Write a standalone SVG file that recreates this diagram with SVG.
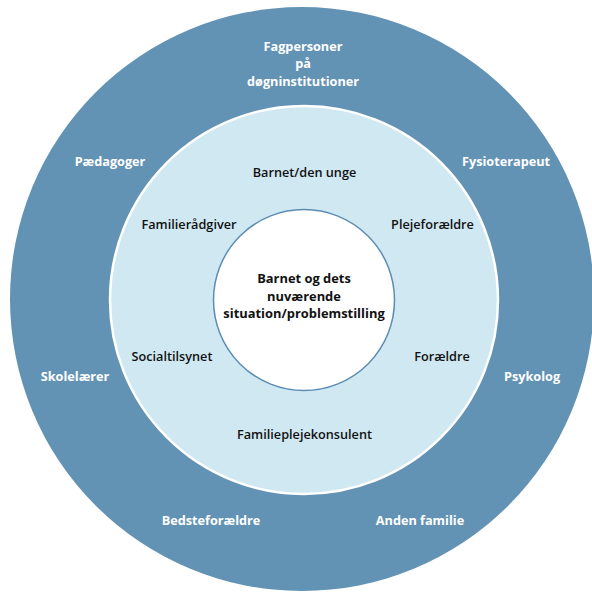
<svg xmlns="http://www.w3.org/2000/svg" width="592" height="594" viewBox="0 0 592 594">
<style>
.o{font-family:"Open Sans","Noto Sans",sans-serif;font-weight:700;font-size:12.7px;fill:#ffffff;text-anchor:middle}
.i{font-family:"Open Sans","Noto Sans",sans-serif;font-weight:600;font-size:12.7px;fill:#111111;text-anchor:middle}
.c{font-family:"Open Sans","Noto Sans",sans-serif;font-weight:700;font-size:12.9px;fill:#111111;text-anchor:middle}
</style>
<rect width="592" height="594" fill="#ffffff"/>
<g id="outer">
<circle cx="302" cy="299" r="292" fill="#6393b4"/>
<text class="o" x="303" y="51">Fagpersoner</text>
<text class="o" x="303" y="68">på</text>
<text class="o" x="303" y="86">døgninstitutioner</text>
<text class="o" x="110" y="166">Pædagoger</text>
<text class="o" x="506" y="166">Fysioterapeut</text>
<text class="o" x="75" y="381">Skolelærer</text>
<text class="o" x="532" y="381">Psykolog</text>
<text class="o" x="211" y="525">Bedsteforældre</text>
<text class="o" x="420" y="525">Anden familie</text>
</g>
<g id="middle">
<circle cx="304" cy="300" r="194" fill="#d0e8f2" stroke="#ffffff" stroke-width="2.5"/>
<text class="i" x="304.5" y="177">Barnet/den unge</text>
<text class="i" x="189" y="229">Familierådgiver</text>
<text class="i" x="432.5" y="229">Plejeforældre</text>
<text class="i" x="172" y="361">Socialtilsynet</text>
<text class="i" x="442" y="361">Forældre</text>
<text class="i" x="304.5" y="439">Familieplejekonsulent</text>
</g>
<g id="center">
<circle cx="304" cy="300" r="90.5" fill="#ffffff" stroke="#5b8db3" stroke-width="1.5"/>
<text class="c" x="304" y="283">Barnet og dets</text>
<text class="c" x="304" y="300.5">nuværende</text>
<text class="c" x="304" y="318">situation/problemstilling</text>
</g>
</svg>
